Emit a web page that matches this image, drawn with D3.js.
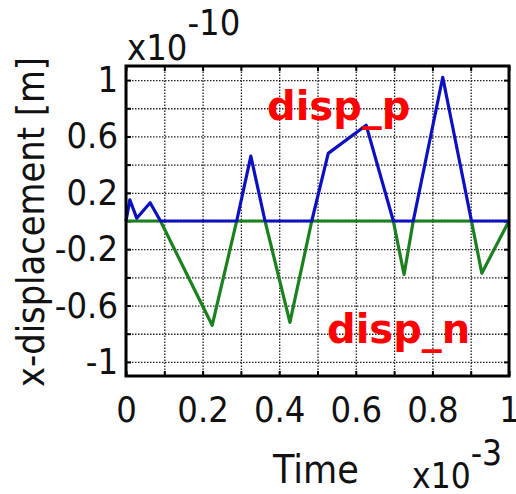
<!DOCTYPE html>
<html>
<head>
<meta charset="utf-8">
<script src="https://cdn.jsdelivr.net/npm/d3@7"></script>
<style>
  html, body { margin: 0; padding: 0; background: #fff; }
  svg { display: block; }
  .grid line { stroke: #222; stroke-width: 1.3; stroke-dasharray: 1.5 1.5; }
  .grid path { display: none; }
  .tk text { font-family: "DejaVu Sans Condensed", "DejaVu Sans", sans-serif; font-size: 36px; fill: #111; }
  .tk path { display: none; }
  .tk line { stroke: #000; stroke-width: 2; }
</style>
</head>
<body>
<div id="chart"></div>
<script>
// disp_p series (blue)
const pTime = [0, 0.01, 0.028, 0.063, 0.09, 0.289, 0.326, 0.363, 0.485, 0.528, 0.627, 0.698, 0.75, 0.827, 0.902, 1.0];
const pVal  = [0, 0.15, 0.02, 0.13, 0, 0, 0.46, 0, 0, 0.48, 0.68, 0, 0, 1.02, 0, 0];
// disp_n series (green)
const nTime = [0, 0.09, 0.225, 0.289, 0.363, 0.428, 0.485, 0.698, 0.726, 0.75, 0.902, 0.929, 1.0];
const nVal  = [0, 0, -0.74, 0, 0, -0.72, 0, 0, -0.38, 0, 0, -0.37, 0];

const xTicks = [0, 0.2, 0.4, 0.6, 0.8, 1];
const yTicks = [-1, -0.6, -0.2, 0.2, 0.6, 1];
const xGrid = d3.range(0, 11).map(i => i / 10);
const yGrid = d3.range(-5, 6).map(i => i / 5);

const W = 516, H = 494;
const m = { left: 126, top: 66, right: 7, bottom: 118 };
const iw = W - m.left - m.right;
const ih = H - m.top - m.bottom;

const x = d3.scaleLinear().domain([0, 1]).range([0, iw]);
const y = d3.scaleLinear().domain([-1.1, 1.1]).range([ih, 0]);

const svg = d3.select('#chart').append('svg')
  .attr('width', W).attr('height', H);
const g = svg.append('g').attr('transform', `translate(${m.left},${m.top})`);

// dotted grid
g.append('g').attr('class', 'grid')
  .attr('transform', `translate(0,${ih})`)
  .call(d3.axisBottom(x).tickValues(xGrid).tickSize(-ih).tickFormat(''));
g.append('g').attr('class', 'grid')
  .call(d3.axisLeft(y).tickValues(yGrid).tickSize(-iw).tickFormat(''));

// inward tick marks on all four sides
g.append('g').attr('class', 'tk').attr('transform', `translate(0,${ih})`)
  .call(d3.axisBottom(x).tickValues(xGrid).tickSize(-5).tickFormat(''));
g.append('g').attr('class', 'tk')
  .call(d3.axisTop(x).tickValues(xGrid).tickSize(-5).tickFormat(''));
g.append('g').attr('class', 'tk')
  .call(d3.axisLeft(y).tickValues(yGrid).tickSize(-5).tickFormat(''));
g.append('g').attr('class', 'tk').attr('transform', `translate(${iw},0)`)
  .call(d3.axisRight(y).tickValues(yGrid).tickSize(-5).tickFormat(''));

// tick labels
const xl = g.append('g').attr('class', 'tk').attr('transform', `translate(0,${ih})`)
  .call(d3.axisBottom(x).tickValues(xTicks).tickSize(0).tickPadding(20).tickFormat(d => String(d)));
xl.selectAll('text').attr('dy', '0.71em');
g.append('g').attr('class', 'tk')
  .call(d3.axisLeft(y).tickValues(yTicks).tickSize(0).tickPadding(8).tickFormat(d => String(d)));

const line = d3.line().x(d => x(d[0])).y(d => y(d[1]));

g.append('path')
  .datum(d3.zip(nTime, nVal))
  .attr('d', line)
  .attr('fill', 'none')
  .attr('stroke', '#1b801e')
  .attr('stroke-width', 3.2)
  .attr('stroke-linejoin', 'round');

g.append('path')
  .datum(d3.zip(pTime, pVal))
  .attr('d', line)
  .attr('fill', 'none')
  .attr('stroke', '#0c10c0')
  .attr('stroke-width', 3.2)
  .attr('stroke-linejoin', 'round');

// frame
g.append('rect')
  .attr('width', iw).attr('height', ih)
  .attr('fill', 'none').attr('stroke', '#000').attr('stroke-width', 3);

const font = '"DejaVu Sans Condensed", "DejaVu Sans", sans-serif';

// series labels
svg.append('text').attr('x', 267).attr('y', 120)
  .attr('font-family', '"DejaVu Sans", sans-serif').attr('font-weight', 'bold')
  .attr('font-size', 40).attr('fill', '#ff0000').text('disp_p');
svg.append('text').attr('x', 327).attr('y', 343)
  .attr('font-family', '"DejaVu Sans", sans-serif').attr('font-weight', 'bold')
  .attr('font-size', 40).attr('fill', '#ff0000').text('disp_n');

// exponent labels
const expY = svg.append('text').attr('x', 127).attr('y', 60)
  .attr('font-family', font).attr('font-size', 36).attr('fill', '#111');
expY.append('tspan').text('x10');
expY.append('tspan').attr('dy', -25).text('-10');

svg.append('text').attr('x', 273).attr('y', 483)
  .attr('font-family', font).attr('font-size', 39).attr('fill', '#111').text('Time');
const expX = svg.append('text').attr('x', 412).attr('y', 488)
  .attr('font-family', font).attr('font-size', 35).attr('fill', '#111');
expX.append('tspan').text('x10');
expX.append('tspan').attr('dy', -23).text('-3');

// y title
svg.append('text')
  .attr('transform', 'translate(44,222) rotate(-90)')
  .attr('text-anchor', 'middle')
  .attr('font-family', font).attr('font-size', 37).attr('fill', '#111')
  .attr('textLength', 330).attr('lengthAdjust', 'spacingAndGlyphs')
  .text('x-displacement [m]');
</script>
</body>
</html>
